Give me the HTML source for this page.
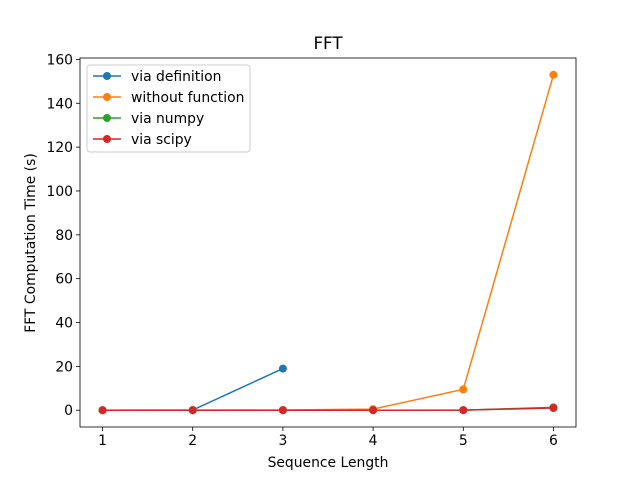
<!DOCTYPE html>
<html><head><meta charset="utf-8"><style>
body{margin:0;background:#fff;}
svg{display:block;font-family:"DejaVu Sans","Liberation Sans",sans-serif;}
</style></head><body>
<svg id="chart" width="640" height="480">
<rect width="640" height="480" fill="#fff"/>
<text x="328" y="49" font-size="16.7" text-anchor="middle">FFT</text>
<g id="plot"></g>
<text x="328" y="467" font-size="13.9" text-anchor="middle">Sequence Length</text>
<text transform="translate(35,243) rotate(-90)" font-size="13.9" text-anchor="middle">FFT Computation Time (s)</text>
</svg>
<script>
const xTicks=[1,2,3,4,5,6];
const yTicks=[0,20,40,60,80,100,120,140,160];
const seriesNames=["via definition","without function","via numpy","via scipy"];
const seriesColors=["#1f77b4","#ff7f0e","#2ca02c","#d62728"];
const defX=[1,2,3]; const defY=[0.01,0.1,19];
const woX=[1,2,3,4,5,6]; const woY=[0.01,0.02,0.1,0.5,9.5,153];
const npX=[1,2,3,4,5,6]; const npY=[0,0,0,0,0.05,1.3];
const spX=[1,2,3,4,5,6]; const spY=[0,0,0,0,0.05,1.0];
const L=80,R=576,T=58,B=427;
const xmin=0.75,xmax=6.25,ymin=-7.65,ymax=160.65;
const sx=v=>L+(v-xmin)/(xmax-xmin)*(R-L);
const sy=v=>B-(v-ymin)/(ymax-ymin)*(B-T);
const NS="http://www.w3.org/2000/svg";
const g=document.getElementById('plot');
function el(t,a,p){const e=document.createElementNS(NS,t);for(const k in a)e.setAttribute(k,a[k]);(p||g).appendChild(e);return e;}
xTicks.forEach(v=>{
 const t=el('line',{x1:sx(v),x2:sx(v),y1:B,y2:B+4,stroke:'#000','stroke-width':0.8});
 
 
 const s=el('text',{x:sx(v),y:B+18,'font-size':13.9,'text-anchor':'middle'});s.textContent=v;
 
 
});
yTicks.forEach(v=>{
 const t=el('line',{x1:L-4,x2:L,y1:sy(v),y2:sy(v),stroke:'#000','stroke-width':0.8});
 
 
 const s=el('text',{x:L-7,y:sy(v)+5,'font-size':13.9,'text-anchor':'end'});s.textContent=v;
 
 
});
const data=[[defX,defY],[woX,woY],[npX,npY],[spX,spY]];
data.forEach((d,i)=>{
 const pts=d[0].map((x,j)=>sx(x)+','+sy(d[1][j])).join(' ');
 const pl=el('polyline',{points:pts,fill:'none',stroke:seriesColors[i],'stroke-width':1.5});
 
 
 d[0].forEach((x,j)=>{
  const c=el('circle',{cx:sx(x),cy:sy(d[1][j]),r:4,fill:seriesColors[i]});
  
  
 });
});
const frame=el('rect',{x:L,y:T,width:R-L,height:B-T,fill:'none',stroke:'#000','stroke-width':0.8});


const lg=el('g',{});


el('rect',{x:87,y:65,width:163,height:87,rx:3,fill:'#fff','fill-opacity':0.8,stroke:'#ccc'},lg);
seriesNames.forEach((n,i)=>{
 const y=76+i*21;
 const e=el('g',{},lg);
 
 
 el('line',{x1:93,x2:121,y1:y,y2:y,stroke:seriesColors[i],'stroke-width':1.5},e);
 el('circle',{cx:107,cy:y,r:4,fill:seriesColors[i]},e);
 const t=el('text',{x:131,y:y+5,'font-size':13.9},e);t.textContent=n;
});
</script>
</body></html>
